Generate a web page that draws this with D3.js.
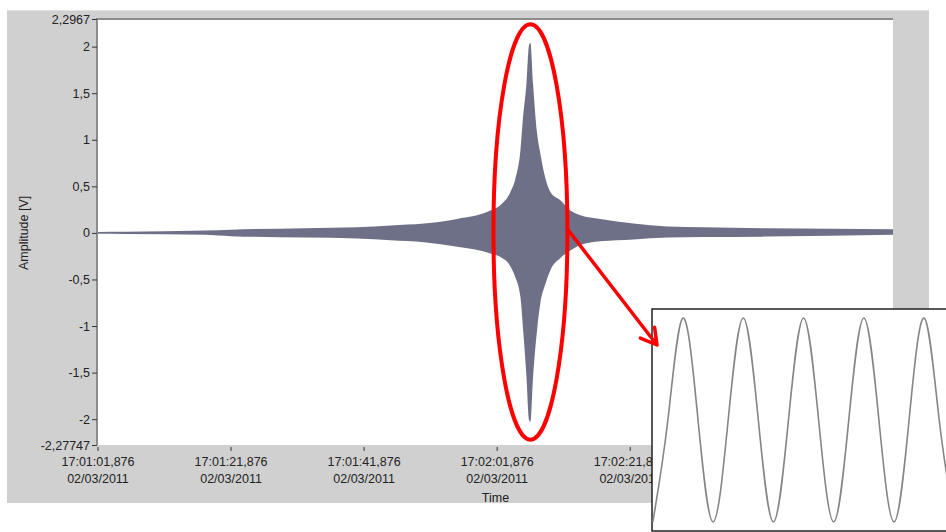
<!DOCTYPE html>
<html lang="en">
<head>
    <meta charset="UTF-8">
    <title>Amplitude vs Time</title>
    <script src="https://d3js.org/d3.v7.min.js"></script>
    <style>
        body {
            margin: 0;
            padding: 0;
            background-color: #ffffff;
            font-family: "Liberation Sans", Arial, sans-serif;
        }
        svg text {
            fill: #222;
        }
    </style>
</head>
<body>
    <svg id="chart" width="946" height="532"></svg>

    <script>
        // time offsets in seconds from 17:01:01,876 (02/03/2011)
        const times = [0, 4, 16, 20, 31, 39, 44, 49, 54, 59, 60.5, 62, 62.7, 63.5, 63.9, 64.4, 64.8, 65,
                       65.4, 66, 66.5, 67.2, 68, 69.5, 71, 72.5, 75.5, 80.5, 85.6, 91, 100.6, 119.5];
        // upper / lower envelope of the signal [V]
        const upperEnv = [0.01, 0.012, 0.025, 0.035, 0.05, 0.06, 0.08, 0.1, 0.15, 0.24, 0.30, 0.44, 0.57, 0.89,
                          1.25, 1.6, 2.02, 2.04, 1.6, 1.07, 0.85, 0.6, 0.44, 0.35, 0.24, 0.19, 0.15, 0.1, 0.07,
                          0.06, 0.05, 0.04];
        const lowerEnv = [-0.01, -0.012, -0.02, -0.035, -0.05, -0.06, -0.08, -0.1, -0.15, -0.22, -0.26, -0.36,
                          -0.47, -0.69, -1.04, -1.54, -2.01, -2.03, -1.54, -1.04, -0.75, -0.56, -0.4, -0.27,
                          -0.19, -0.13, -0.09, -0.07, -0.05, -0.045, -0.04, -0.02];

        const yTicks = [2.2967, 2, 1.5, 1, 0.5, 0, -0.5, -1, -1.5, -2, -2.27747];
        const xTickSeconds = [0, 20, 40, 60, 80, 100];

        // zoomed inset: a few periods of the carrier (phase in periods, normalised amplitude)
        const insetPhase = [0, 0.25, 0.5, 0.75, 1, 1.25, 1.5, 1.75, 2, 2.25, 2.5, 2.75, 3, 3.25, 3.5, 3.75,
                            4, 4.25, 4.5, 4.75, 5];
        const insetValue = [-1, 0, 1, 0, -1, 0, 1, 0, -1, 0, 1, 0, -1, 0, 1, 0, -1, 0, 1, 0, -1];

        const startTime = new Date(2011, 2, 2, 17, 1, 1, 876);
        const span = 119.5;

        const svg = d3.select("#chart");
        const plotLeft = 98, plotRight = 893, plotTop = 19, plotBottom = 445;

        // gray panel
        svg.append("rect")
            .attr("x", 7).attr("y", 10)
            .attr("width", 922).attr("height", 493)
            .attr("fill", "#d0d0d0");
        svg.append("line")
            .attr("x1", 7).attr("x2", 929).attr("y1", 10.5).attr("y2", 10.5)
            .attr("stroke", "#e2e2e2");

        // plot area
        svg.append("rect")
            .attr("x", plotLeft).attr("y", plotTop)
            .attr("width", plotRight - plotLeft).attr("height", plotBottom - plotTop)
            .attr("fill", "#ffffff");
        svg.append("path")
            .attr("d", `M${plotLeft - 1},${plotBottom} V${plotTop} H${plotRight}`)
            .attr("fill", "none")
            .attr("stroke", "#8c8c8c")
            .attr("stroke-width", 2);

        const x = d3.scaleLinear().domain([0, span]).range([plotLeft, plotRight]);
        const y = d3.scaleLinear().domain([-2.27747, 2.2967]).range([plotBottom, plotTop]);

        // signal envelope
        const data = times.map((t, i) => ({ t: t, hi: upperEnv[i], lo: lowerEnv[i] }));
        const area = d3.area()
            .x(d => x(d.t))
            .y0(d => y(d.lo))
            .y1(d => y(d.hi))
            .curve(d3.curveMonotoneX);

        svg.append("path")
            .datum(data)
            .attr("d", area)
            .attr("fill", "#6e7088");

        // y axis
        const fmtY = v => String(v).replace(".", ",");
        const yAxis = svg.append("g")
            .attr("transform", `translate(${plotLeft - 1},0)`)
            .call(d3.axisLeft(y).tickValues(yTicks).tickSize(5).tickPadding(2).tickFormat(fmtY));
        yAxis.select(".domain").remove();
        yAxis.selectAll("line").attr("stroke", "#333");
        yAxis.selectAll("text")
            .attr("font-family", "Liberation Sans, Arial, sans-serif")
            .attr("font-size", "12.5px")
            .attr("fill", "#222");

        svg.append("text")
            .attr("transform", `translate(25,${y(0)}) rotate(-90)`)
            .attr("text-anchor", "middle")
            .attr("dominant-baseline", "middle")
            .style("font-size", "12.5px")
            .text("Amplitude [V]");

        // x axis
        const fmtTime = d3.timeFormat("%H:%M:%S,%L");
        const fmtDate = d3.timeFormat("%d/%m/%Y");
        const xTicks = svg.append("g");
        xTickSeconds.forEach(s => {
            const px = x(s);
            const d = new Date(startTime.getTime() + s * 1000);
            xTicks.append("line")
                .attr("x1", px).attr("x2", px)
                .attr("y1", plotBottom + 2).attr("y2", plotBottom + 6)
                .attr("stroke", "#333");
            const txt = xTicks.append("text")
                .attr("text-anchor", "middle")
                .style("font-size", "12.5px");
            txt.append("tspan").attr("x", px).attr("y", plotBottom + 21).text(fmtTime(d));
            txt.append("tspan").attr("x", px).attr("y", plotBottom + 38).text(fmtDate(d));
        });

        svg.append("text")
            .attr("x", (plotLeft + plotRight) / 2)
            .attr("y", 502)
            .attr("text-anchor", "middle")
            .style("font-size", "12.5px")
            .text("Time");

        // inset with zoomed waveform
        const inset = { x: 652, y: 309, w: 300, h: 222 };
        svg.append("clipPath").attr("id", "insetClip")
            .append("rect")
            .attr("x", inset.x).attr("y", inset.y)
            .attr("width", inset.w).attr("height", inset.h);

        svg.append("rect")
            .attr("x", inset.x).attr("y", inset.y)
            .attr("width", inset.w).attr("height", inset.h)
            .attr("fill", "#ffffff")
            .attr("stroke", "#222")
            .attr("stroke-width", 1.5);

        const ix = d3.scaleLinear().domain([0, 1]).range([652.8, 713.1]);
        const iy = d3.scaleLinear().domain([-1, 1]).range([522, 318]);
        const insetLine = d3.line()
            .x((d, i) => ix(insetPhase[i]))
            .y(d => iy(d))
            .curve(d3.curveNatural);

        svg.append("path")
            .datum(insetValue)
            .attr("clip-path", "url(#insetClip)")
            .attr("d", insetLine)
            .attr("fill", "none")
            .attr("stroke", "#858585")
            .attr("stroke-width", 1.6);

        // red annotation: ellipse round the burst and arrow to the inset
        const peakT = 65;
        const ecx = x(peakT);
        const eTop = y(2.24), eBot = y(-2.22);
        const rx = 37;
        svg.append("ellipse")
            .attr("cx", ecx)
            .attr("cy", (eTop + eBot) / 2)
            .attr("rx", rx)
            .attr("ry", (eBot - eTop) / 2)
            .attr("fill", "none")
            .attr("stroke", "#ff0000")
            .attr("stroke-width", 4);

        const a0 = [ecx + rx, y(0.04)];
        const a1 = [657, 345];
        const ang = Math.atan2(a1[1] - a0[1], a1[0] - a0[0]);
        const wing = 18, spread = Math.PI / 6;
        const w1 = [a1[0] - wing * Math.cos(ang - spread), a1[1] - wing * Math.sin(ang - spread)];
        const w2 = [a1[0] - wing * Math.cos(ang + spread), a1[1] - wing * Math.sin(ang + spread)];
        svg.append("path")
            .attr("d", `M${a0[0]},${a0[1]} L${a1[0]},${a1[1]} M${w1[0]},${w1[1]} L${a1[0]},${a1[1]} L${w2[0]},${w2[1]}`)
            .attr("fill", "none")
            .attr("stroke", "#ff0000")
            .attr("stroke-width", 3.5)
            .attr("stroke-linecap", "round")
            .attr("stroke-linejoin", "round");
    </script>
</body>
</html>
